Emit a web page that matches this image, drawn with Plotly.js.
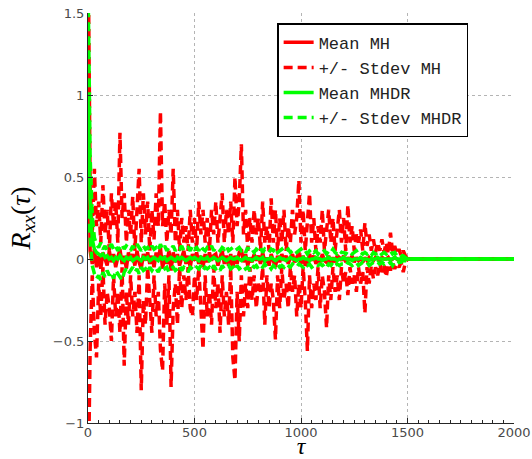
<!DOCTYPE html>
<html>
<head>
<meta charset="utf-8">
<script src="https://cdn.plot.ly/plotly-3.0.1.min.js"></script>
<style>html,body{margin:0;padding:0;background:#fff;}#chart{width:532px;height:459px;}</style>
</head>
<body>
<div id="chart"></div>
<script>
// lag values: 0..1500 every 10 samples, then the flat tail at 2000
const lagStep = 10;
const lastLag = 1500;
const tailLag = 2000;

// Mean MH
const meanMH = [
 1.0,0.05,-0.03,0.06,-0.05,0.02,-0.06,0.04,0.0,-0.04,
 0.05,-0.02,0.03,-0.05,0.01,0.06,-0.03,0.02,-0.06,0.04,
 -0.01,0.03,-0.04,0.05,-0.02,-0.06,0.03,-0.01,0.04,-0.03,
 0.02,-0.05,0.04,0.0,0.07,-0.06,0.02,-0.03,0.05,-0.07,
 0.04,-0.02,0.03,-0.04,0.01,0.05,-0.03,0.02,-0.05,0.03,
 -0.01,0.04,-0.03,0.02,-0.05,0.03,-0.02,0.04,-0.01,0.02,
 0.03,-0.04,0.01,0.05,-0.03,0.02,-0.04,0.03,-0.05,0.02,
 -0.03,0.04,0.06,-0.02,0.03,-0.04,0.01,-0.02,0.03,-0.01,
 0.02,-0.03,0.04,-0.02,0.01,-0.04,0.03,-0.01,-0.05,0.02,
 -0.02,0.03,-0.01,0.02,-0.03,0.01,0.03,-0.02,0.01,0.04,
 -0.03,0.02,-0.04,-0.02,0.03,-0.01,0.02,-0.03,0.01,-0.02,
 0.03,-0.01,-0.02,0.02,-0.03,0.01,-0.02,0.02,0.01,-0.01,
 0.02,-0.02,0.01,-0.01,0.02,-0.02,0.01,-0.01,0.01,-0.02,
 0.01,-0.01,0.01,0.0,-0.01,0.01,0.0,-0.01,0.01,0.0,
 0.0,0.01,-0.01,0.0,0.01,0.0,-0.01,0.0,0.0,0.0,
 0.0, 0.0];

// Mean MH + Stdev
const upperMH = [
 2.0,0.45,0.15,0.55,0.2,0.35,0.1,0.45,0.15,0.3,
 0.05,0.4,0.2,0.35,0.1,0.77,0.25,0.4,0.1,0.3,
 0.15,0.38,0.05,0.3,0.55,0.1,0.4,0.15,0.35,0.05,
 0.3,0.12,0.4,0.2,0.9,0.2,0.35,0.1,0.3,0.15,
 0.55,0.1,0.3,0.05,0.25,0.1,0.2,0.05,0.3,0.1,
 0.25,0.05,0.35,0.15,0.3,0.1,0.25,0.05,0.3,0.15,
 0.35,0.1,0.25,0.4,0.1,0.3,0.15,0.35,0.1,0.5,
 0.2,0.35,0.7,0.15,0.3,0.05,0.25,0.1,0.3,0.15,
 0.25,0.05,0.35,0.1,0.2,0.05,0.37,0.1,0.3,0.05,
 0.25,0.1,0.3,0.05,0.2,0.1,0.3,0.15,0.25,0.48,
 0.1,0.3,0.05,0.25,0.4,0.1,0.25,0.05,0.2,0.1,
 0.3,0.05,0.2,0.3,0.1,0.25,0.05,0.2,0.3,0.1,
 0.25,0.05,0.33,0.1,0.2,0.05,0.15,0.1,0.18,0.05,
 0.22,0.08,0.15,0.05,0.12,0.04,0.1,0.05,0.12,0.04,
 0.1,0.03,0.16,0.04,0.08,0.03,0.06,0.02,0.05,0.02,
 0.0, 0.0];

// Mean MH - Stdev
const lowerMH = [
 -1.5,-0.55,-0.1,-0.45,-0.6,-0.15,-0.35,-0.05,-0.4,-0.2,
 -0.3,-0.5,-0.1,-0.35,-0.2,-0.45,-0.05,-0.65,-0.2,-0.4,
 -0.1,-0.35,-0.2,-0.45,-0.1,-0.8,-0.25,-0.4,-0.05,-0.3,
 -0.45,-0.1,-0.35,-0.2,-0.55,-0.68,-0.15,-0.4,-0.1,-0.78,
 -0.3,-0.15,-0.4,-0.05,-0.3,-0.1,-0.25,-0.05,-0.3,-0.35,
 -0.1,-0.25,-0.05,-0.3,-0.55,-0.1,-0.35,-0.2,-0.4,-0.05,
 -0.3,-0.15,-0.45,-0.1,-0.35,-0.2,-0.4,-0.05,-0.6,-0.74,
 -0.2,-0.5,-0.1,-0.35,-0.15,-0.3,-0.05,-0.25,-0.1,-0.3,
 -0.15,-0.2,-0.05,-0.4,-0.1,-0.3,-0.15,-0.25,-0.49,-0.1,
 -0.3,-0.05,-0.25,-0.15,-0.3,-0.05,-0.2,-0.1,-0.35,-0.15,
 -0.3,-0.05,-0.25,-0.56,-0.1,-0.3,-0.15,-0.25,-0.05,-0.3,
 -0.1,-0.2,-0.42,-0.1,-0.25,-0.05,-0.2,-0.1,-0.25,-0.05,
 -0.15,-0.08,-0.22,-0.05,-0.15,-0.1,-0.2,-0.05,-0.15,-0.08,
 -0.33,-0.05,-0.15,-0.04,-0.12,-0.05,-0.1,-0.03,-0.08,-0.04,
 -0.11,-0.03,-0.07,-0.02,-0.06,-0.03,-0.05,-0.02,-0.08,-0.02,
 0.0, 0.0];

// Mean MHDR
const meanMHDR = [
 1.0,0.35,0.12,0.06,0.04,0.03,0.02,0.03,0.01,0.02,
 0.0,0.01,-0.01,0.01,0.0,0.02,0.0,-0.01,0.01,0.0,
 0.01,-0.01,0.0,0.01,0.0,-0.01,0.01,0.0,0.01,-0.01,
 0.0,0.01,0.0,-0.01,0.01,0.0,0.01,-0.01,0.0,0.01,
 0.0,-0.01,0.01,0.0,0.01,0.0,-0.01,0.0,0.01,0.0,
 0.01,0.0,-0.01,0.01,0.0,0.0,0.01,-0.01,0.0,0.01,
 0.0,-0.01,0.0,0.01,0.0,-0.01,0.0,0.01,0.0,0.0,
 0.01,0.0,-0.01,0.0,0.01,0.0,0.0,-0.01,0.0,0.01,
 0.0,0.0,0.01,-0.01,0.0,0.0,0.01,0.0,-0.01,0.0,
 0.01,0.0,0.0,-0.01,0.0,0.01,0.0,0.0,-0.01,0.0,
 0.0,0.01,0.0,0.0,-0.01,0.0,0.0,0.01,0.0,0.0,
 -0.01,0.0,0.0,0.01,0.0,0.0,0.0,-0.01,0.0,0.0,
 0.01,0.0,0.0,0.0,-0.01,0.0,0.0,0.0,0.01,0.0,
 0.0,0.0,-0.01,0.0,0.0,0.0,0.01,0.0,0.0,0.0,
 0.0,0.0,0.0,0.0,0.01,0.0,0.0,0.0,0.0,0.0,
 0.0, 0.0];

// Mean MHDR + Stdev
const upperMHDR = [
 1.7,0.62,0.26,0.13,0.09,0.07,0.1,0.06,0.08,0.05,
 0.07,0.09,0.06,0.08,0.05,0.07,0.09,0.06,0.08,0.07,
 0.05,0.08,0.06,0.09,0.07,0.05,0.08,0.06,0.07,0.05,
 0.08,0.06,0.07,0.05,0.09,0.06,0.08,0.05,0.07,0.06,
 0.08,0.05,0.07,0.06,0.08,0.05,0.06,0.07,0.05,0.08,
 0.06,0.07,0.05,0.08,0.06,0.05,0.07,0.06,0.08,0.05,
 0.07,0.06,0.05,0.07,0.06,0.08,0.05,0.06,0.07,0.05,
 0.06,0.07,0.05,0.06,0.04,0.07,0.05,0.06,0.04,0.06,
 0.05,0.07,0.04,0.06,0.05,0.04,0.06,0.05,0.07,0.04,
 0.05,0.06,0.04,0.05,0.06,0.04,0.05,0.06,0.04,0.05,
 0.06,0.04,0.05,0.03,0.05,0.06,0.04,0.05,0.03,0.05,
 0.04,0.05,0.03,0.05,0.04,0.06,0.04,0.03,0.05,0.04,
 0.04,0.03,0.05,0.04,0.03,0.04,0.05,0.03,0.04,0.03,
 0.04,0.03,0.04,0.02,0.04,0.03,0.04,0.02,0.03,0.04,
 0.03,0.04,0.05,0.03,0.04,0.02,0.03,0.02,0.02,0.01,
 0.0, 0.0];

// Mean MHDR - Stdev
const lowerMHDR = [
 0.3,0.1,-0.04,-0.09,-0.12,-0.1,-0.13,-0.08,-0.11,-0.07,
 -0.1,-0.08,-0.12,-0.07,-0.09,-0.11,-0.13,-0.08,-0.06,-0.09,
 -0.07,-0.05,-0.08,-0.06,-0.09,-0.05,-0.07,-0.06,-0.08,-0.05,
 -0.07,-0.05,-0.06,-0.08,-0.05,-0.07,-0.06,-0.05,-0.08,-0.06,
 -0.05,-0.07,-0.06,-0.04,-0.07,-0.05,-0.06,-0.08,-0.05,-0.06,
 -0.07,-0.05,-0.06,-0.04,-0.07,-0.05,-0.06,-0.05,-0.07,-0.04,
 -0.06,-0.05,-0.07,-0.04,-0.06,-0.05,-0.04,-0.06,-0.05,-0.07,
 -0.04,-0.06,-0.05,-0.04,-0.06,-0.05,-0.07,-0.04,-0.05,-0.04,
 -0.06,-0.04,-0.05,-0.03,-0.05,-0.04,-0.06,-0.04,-0.05,-0.03,
 -0.05,-0.04,-0.05,-0.03,-0.04,-0.05,-0.03,-0.04,-0.05,-0.03,
 -0.04,-0.05,-0.03,-0.04,-0.03,-0.05,-0.04,-0.03,-0.04,-0.03,
 -0.04,-0.03,-0.05,-0.03,-0.04,-0.02,-0.04,-0.03,-0.04,-0.03,
 -0.03,-0.04,-0.02,-0.03,-0.04,-0.03,-0.02,-0.04,-0.03,-0.02,
 -0.03,-0.02,-0.04,-0.03,-0.02,-0.03,-0.02,-0.03,-0.02,-0.03,
 -0.02,-0.03,-0.02,-0.04,-0.02,-0.03,-0.02,-0.02,-0.01,-0.01,
 0.0, 0.0];

const xTicks = [0, 500, 1000, 1500, 2000];
const legendNames = ['Mean MH', '+/- Stdev MH', 'Mean MHDR', '+/- Stdev MHDR'];

const tau = [];
for (let t = 0; t <= lastLag; t += lagStep) tau.push(t);
tau.push(tailLag);

const RED = '#ff0000', GREEN = '#00ff00';
const DASH = '9px,5px';
const LW = 3.5;

const traces = [
  {x: tau, y: meanMH, name: legendNames[0], mode: 'lines', line: {color: RED, width: LW}},
  {x: tau, y: upperMH, name: legendNames[1], mode: 'lines', line: {color: RED, width: LW, dash: DASH}, legendgroup: 'sMH'},
  {x: tau, y: lowerMH, name: legendNames[1], mode: 'lines', line: {color: RED, width: LW, dash: DASH}, legendgroup: 'sMH', showlegend: false},
  {x: tau, y: meanMHDR, name: legendNames[2], mode: 'lines', line: {color: GREEN, width: LW}},
  {x: tau, y: upperMHDR, name: legendNames[3], mode: 'lines', line: {color: GREEN, width: LW, dash: DASH}, legendgroup: 'sMHDR'},
  {x: tau, y: lowerMHDR, name: legendNames[3], mode: 'lines', line: {color: GREEN, width: LW, dash: DASH}, legendgroup: 'sMHDR', showlegend: false}
];

const axisCommon = {
  showline: true, linecolor: '#262626', linewidth: 1,
  ticks: 'inside', ticklen: 5, tickcolor: '#262626',
  showgrid: true, gridcolor: '#b4b4b4', gridwidth: 1, griddash: 'dot',
  zeroline: false,
  tickfont: {family: 'DejaVu Sans', size: 13, color: '#4a4a4a'}
};

const layout = {
  width: 532, height: 459,
  margin: {l: 88, r: 18, t: 13, b: 36},
  paper_bgcolor: '#ffffff', plot_bgcolor: '#ffffff',
  showlegend: true,
  legend: {
    x: 0.444, y: 0.975, xanchor: 'left', yanchor: 'top',
    bgcolor: '#ffffff', bordercolor: '#000000', borderwidth: 1.5,
    font: {family: 'Liberation Mono', size: 17, color: '#222222'},
    tracegroupgap: 0, entrywidth: 190, entrywidthmode: 'pixels'
  },
  xaxis: Object.assign({}, axisCommon, {
    range: [0, 2000], tickmode: 'array', tickvals: xTicks,
    ticklabelstandoff: -3,
    minor: {dtick: 50, ticks: 'inside', ticklen: 3, tickcolor: '#262626', showgrid: false},
    title: {text: '<i>τ</i>', font: {family: 'Liberation Serif', size: 24, color: '#000'}, standoff: 9}
  }),
  yaxis: Object.assign({}, axisCommon, {
    range: [-1, 1.5], tickmode: 'linear', tick0: -1, dtick: 0.5,
    title: {text: '<i>R</i><sub><i>xx</i></sub>(<i>τ</i>)', font: {family: 'Liberation Serif', size: 28, color: '#000'}, standoff: 14}
  })
};

Plotly.newPlot('chart', traces, layout, {displayModeBar: false, staticPlot: true});
</script>
</body>
</html>
